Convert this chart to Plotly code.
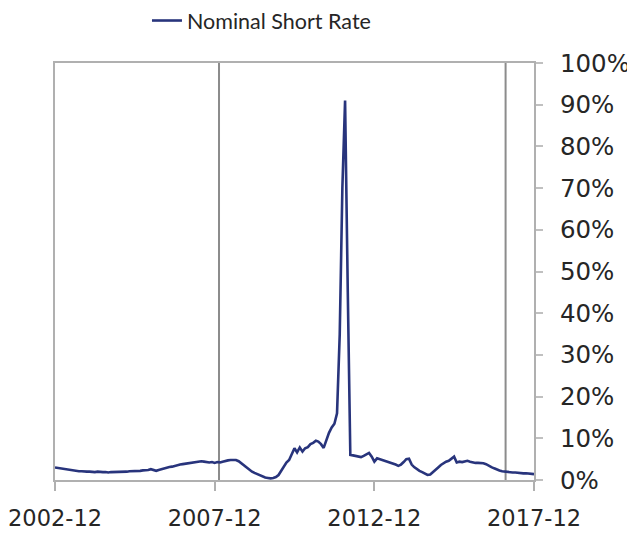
import plotly.graph_objects as go
import pandas as pd

# Monthly nominal short rate (%), 2002-12 .. 2017-12
rate_values = [
    3.0, 2.9, 2.8, 2.6, 2.5, 2.4, 2.3, 2.2, 2.2, 2.1,
    2.1, 2.0, 2.0, 2.0, 1.9, 1.9, 2.0, 1.9, 1.9, 1.9,
    1.8, 1.9, 1.9, 2.0, 1.9, 2.0, 2.0, 2.0, 2.1, 2.1,
    2.1, 2.2, 2.2, 2.3, 2.3, 2.4, 2.6, 2.4, 2.2, 2.4,
    2.6, 2.8, 3.0, 3.1, 3.2, 3.4, 3.5, 3.7, 3.8, 3.9,
    4.0, 4.1, 4.2, 4.3, 4.4, 4.5, 4.4, 4.3, 4.2, 4.3,
    4.1, 4.3, 4.2, 4.4, 4.6, 4.7, 4.8, 4.8, 4.8, 4.5,
    4.0, 3.4, 2.9, 2.4, 2.0, 1.7, 1.4, 1.1, 0.8, 0.6,
    0.5, 0.4, 0.5, 0.7, 1.2, 2.2, 3.2, 4.2, 4.8, 6.3,
    7.6, 6.6, 7.8, 6.8, 7.6, 7.9, 8.6, 8.9, 9.4, 9.2,
    8.6, 7.7, 9.8, 11.3, 12.6, 13.5, 16.0, 35.0, 70.0, 91.0,
    45.0, 6.0, 5.9, 5.8, 5.6, 5.5, 5.8, 6.2, 6.5, 5.6,
    4.4, 5.2, 5.0, 4.8, 4.6, 4.4, 4.2, 4.0, 3.7, 3.4,
    3.7, 4.3, 5.0, 5.1, 3.7, 3.1, 2.6, 2.2, 1.9, 1.5,
    1.2, 1.3, 1.8, 2.5, 3.0, 3.6, 4.1, 4.4, 4.6, 5.2,
    5.6, 4.2, 4.4, 4.3, 4.5, 4.6, 4.4, 4.2, 4.1, 4.1,
    4.1, 4.0, 3.8, 3.4, 3.1, 2.8, 2.5, 2.3, 2.1, 2.0,
    1.9, 1.9, 1.8, 1.8, 1.7, 1.7, 1.6, 1.6, 1.5, 1.5,
    1.4,
]
months = pd.date_range("2002-12-01", periods=len(rate_values), freq="MS")

tick_dates = ["2002-12-01", "2007-12-01", "2012-12-01", "2017-12-01"]
tick_labels = ["2002-12", "2007-12", "2012-12", "2017-12"]
marker_dates = ["2008-01-20", "2017-01-10"]
y_ticks = [0, 10, 20, 30, 40, 50, 60, 70, 80, 90, 100]
y_tick_labels = ["0%", "10%", "20%", "30%", "40%", "50%", "60%", "70%", "80%", "90%", "100%"]

FONT = "Lato"
TICK_FONT = "DejaVu Sans"
TEXT = "#262626"
fig = go.Figure()
fig.add_trace(go.Scatter(
    x=months, y=rate_values, mode="lines", name="Nominal Short Rate",
    line=dict(color="#28347c", width=2.6),
))

for d in marker_dates:
    fig.add_shape(type="line", xref="x", yref="paper", x0=d, x1=d, y0=0, y1=1,
                  line=dict(color="#8c8c8c", width=2), layer="below")

# page body has an 8px margin, so the figure is sized to fit the window
fig.update_layout(
    width=627, height=528,
    margin=dict(l=47, r=101, t=55, b=56, autoexpand=False),
    paper_bgcolor="white", plot_bgcolor="white",
    font=dict(family=FONT, color=TEXT, size=24),
    showlegend=True,
    legend=dict(orientation="h", x=0.192, xanchor="left",
                y=1.151, yanchor="top",
                font=dict(size=21.5, color=TEXT), bgcolor="rgba(0,0,0,0)"),
    xaxis=dict(
        type="date", range=["2002-12-01", "2017-12-01"],
        tickvals=tick_dates, ticktext=tick_labels,
        showgrid=False, zeroline=False, automargin=False,
        ticklabeloverflow="allow", ticklabelstandoff=8,
        showline=True, linecolor="#b0b0b0", linewidth=2, mirror=True,
        ticks="outside", ticklen=9, tickcolor="#b0b0b0", tickwidth=1.5,
        tickfont=dict(family=TICK_FONT, size=22.5, color=TEXT),
    ),
    yaxis=dict(
        side="right", range=[0, 100], tickvals=y_ticks, ticktext=y_tick_labels,
        showgrid=False, zeroline=False, automargin=False,
        ticklabeloverflow="allow",
        showline=True, linecolor="#b0b0b0", linewidth=2, mirror=True,
        ticks="outside", ticklen=7, tickcolor="#c0c0c0", tickwidth=1.5,
        ticklabelstandoff=12,
        tickfont=dict(family=TICK_FONT, size=24.5, color=TEXT),
    ),
)

fig.write_html("out.html")
